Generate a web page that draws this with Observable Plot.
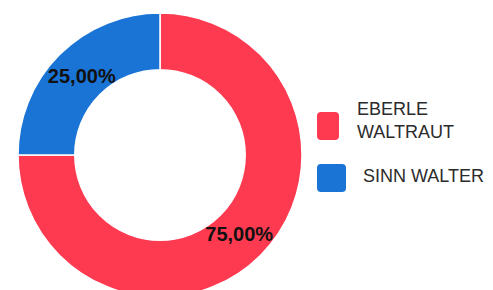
<!DOCTYPE html>
<html>
<head>
<meta charset="utf-8">
<script src="https://cdn.jsdelivr.net/npm/d3@7"></script>
<script src="https://cdn.jsdelivr.net/npm/@observablehq/plot@0.6"></script>
<style>
  html, body { margin: 0; padding: 0; background: #fff; }
  #wrap { position: relative; width: 493px; height: 290px; overflow: hidden; font-family: "Liberation Sans", Arial, sans-serif; }
  #legend { position: absolute; left: 317px; top: 0; }
  .item { position: absolute; white-space: nowrap; color: #2b2b2b; font-size: 18px; line-height: 23px; }
  .sw { position: absolute; border-radius: 4px; }
</style>
</head>
<body>
<div id="wrap"></div>
<script>
const names = ["EBERLE WALTRAUT", "SINN WALTER"];
const legendLines = [["EBERLE", "WALTRAUT"], ["SINN WALTER"]];
const values = [75, 25];
const labels = ["75,00%", "25,00%"];
const colors = ["#fe3a50", "#1a74d6"];

const data = names.map((n, i) => ({name: n, value: values[i], label: labels[i], color: colors[i]}));
const pie = d3.pie().value(d => d.value).sort(null)(data);
const innerRatio = 0.6;
const rMid = (1 + innerRatio) / 2 * 0.98;
const labelData = pie.map(p => {
  const a = (p.startAngle + p.endAngle) / 2;
  return {label: p.data.label, x: Math.sin(a) * rMid, y: Math.cos(a) * rMid};
});

const W = 493, H = 290, cxPx = 160, cyPx = 155, R = 142;

function donut(index, scales) {
  const g = d3.create("svg:g");
  const cx = scales.x(0), cy = scales.y(0);
  const rad = scales.x(1) - scales.x(0);
  const arc = d3.arc().innerRadius(rad * innerRatio).outerRadius(rad);
  g.attr("transform", `translate(${cx},${cy})`);
  g.selectAll("path").data(pie).join("path")
    .attr("d", arc)
    .attr("fill", d => d.data.color)
    .attr("stroke", "#ffffff")
    .attr("stroke-width", 1.5);
  return g.node();
}

const chart = Plot.plot({
  width: W, height: H,
  margin: 0,
  x: {domain: [-cxPx / R, (W - cxPx) / R], range: [0, W], axis: null},
  y: {domain: [-(H - cyPx) / R, cyPx / R], range: [H, 0], axis: null},
  style: {background: "#fff"},
  marks: [
    donut,
    Plot.text(labelData, {x: "x", y: "y", text: "label", fontSize: 20, fontWeight: "bold", fill: "#111", fontFamily: "Liberation Sans, Arial, sans-serif"})
  ]
});

const wrap = document.getElementById("wrap");
wrap.appendChild(chart);
chart.style.position = "absolute";
chart.style.left = "0"; chart.style.top = "0";

const legend = document.createElement("div");
legend.id = "legend";
wrap.appendChild(legend);
const swPos = [{top: 112, w: 22, h: 28}, {top: 164, w: 29, h: 28}];
const txtPos = [{left: 40, top: 98}, {left: 46, top: 165}];
legendLines.forEach((lines, i) => {
  const sw = document.createElement("div");
  sw.className = "sw";
  sw.style.left = "0px"; sw.style.top = swPos[i].top + "px";
  sw.style.width = swPos[i].w + "px"; sw.style.height = swPos[i].h + "px";
  sw.style.background = colors[i];
  legend.appendChild(sw);
  const t = document.createElement("div");
  t.className = "item";
  t.style.left = txtPos[i].left + "px"; t.style.top = txtPos[i].top + "px";
  t.innerHTML = lines.join("<br>");
  legend.appendChild(t);
});
</script>
</body>
</html>
